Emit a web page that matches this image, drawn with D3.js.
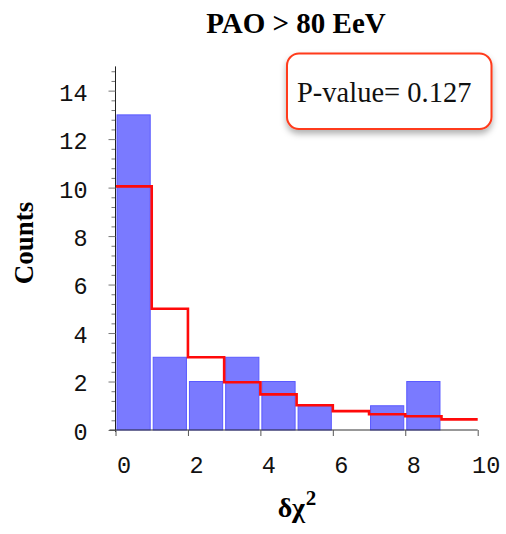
<!DOCTYPE html>
<html>
<head>
<meta charset="utf-8">
<script src="https://cdn.jsdelivr.net/npm/d3@7/dist/d3.min.js"></script>
<style>
  html, body { margin: 0; padding: 0; background: #fff; }
  svg { display: block; }
</style>
</head>
<body>
<script>
// Histogram of delta chi-square values with the expected distribution overlaid
const binStarts = [0, 1, 2, 3, 4, 5, 6, 7, 8, 9];
const binWidth = 1;
const counts = [13, 3, 2, 3, 2, 1, 0, 1, 2, 0];
const expected = [10.05, 5.0, 3.0, 1.97, 1.47, 1.02, 0.78, 0.65, 0.57, 0.44];
const xTicks = [0, 2, 4, 6, 8, 10];
const yTicks = [0, 2, 4, 6, 8, 10, 12, 14];
const titleText = "PAO > 80 EeV";
const pValueText = "P-value= 0.127";

const W = 506, H = 534;
const svg = d3.select("body").append("svg").attr("width", W).attr("height", H);

const x = d3.scaleLinear().domain([0, 10]).range([115.5, 477.7]);
const y = d3.scaleLinear().domain([0, 15]).range([430, 66.4]);

const serif = "'Liberation Serif', 'Times New Roman', serif";
const mono = "'Liberation Mono', 'DejaVu Sans Mono', monospace";

// shadow for the annotation box
const defs = svg.append("defs");
const f = defs.append("filter").attr("id", "shadow").attr("x", "-20%").attr("y", "-20%").attr("width", "140%").attr("height", "160%");
f.append("feDropShadow").attr("dx", 0).attr("dy", 4).attr("stdDeviation", 3).attr("flood-color", "#000").attr("flood-opacity", 0.3);

// bars
svg.append("g").selectAll("rect")
  .data(binStarts.map((b, i) => ({ b, c: counts[i] })).filter(d => d.c > 0))
  .join("rect")
  .attr("x", d => x(d.b) + 1.5)
  .attr("width", d => x(d.b + binWidth) - x(d.b) - 3)
  .attr("y", d => y(d.c))
  .attr("height", d => y(0) - y(d.c))
  .attr("fill", "#7a7aff")
  .attr("stroke", "#5a5aff")
  .attr("stroke-width", 1);

// expected distribution as a step line
const stepPts = binStarts.map((b, i) => [b, expected[i]]);
stepPts.push([binStarts[binStarts.length - 1] + binWidth, expected[expected.length - 1]]);
svg.append("path")
  .datum(stepPts)
  .attr("d", d3.line().x(d => x(d[0])).y(d => y(d[1])).curve(d3.curveStepAfter))
  .attr("fill", "none")
  .attr("stroke", "#ff0a0a")
  .attr("stroke-width", 2.6);

// y axis: major ticks every 2, minor every 0.4
const yMinor = d3.range(0, 14.81, 0.4).filter(v => Math.abs(v / 2 - Math.round(v / 2)) > 1e-6);
const yAxisG = svg.append("g").attr("transform", `translate(${x(0)},0)`);
yAxisG.call(d3.axisLeft(y).tickValues(yMinor).tickSize(4).tickFormat(""))
  .call(g => g.select(".domain").remove())
  .call(g => g.selectAll(".tick line").attr("stroke", "#777"));
const yMajorG = svg.append("g").attr("transform", `translate(${x(0)},0)`);
yMajorG.call(d3.axisLeft(y).tickValues(yTicks).tickSize(7).tickPadding(21).tickSizeOuter(0))
  .call(g => g.select(".domain").attr("stroke", "#222").attr("d", `M0,${y(15)}V${y(0) + 2}`))
  .call(g => g.selectAll(".tick line").attr("stroke", "#777"))
  .call(g => g.selectAll(".tick text").attr("font-family", mono).attr("font-size", 23.5).attr("fill", "#111").attr("dy", "0.4em"));

// x axis
const xAxisG = svg.append("g").attr("transform", `translate(0,${y(0)})`);
xAxisG.call(d3.axisBottom(x).tickValues(xTicks).tickSize(6).tickPadding(20).tickSizeOuter(0))
  .call(g => g.select(".domain").attr("stroke", "#333").attr("d", `M${x(0) - 6},0H${x(10)}`))
  .call(g => g.selectAll(".tick line").attr("stroke", "#555"))
  .call(g => g.selectAll(".tick text").attr("font-family", mono).attr("font-size", 23.5).attr("fill", "#111").attr("dx", 8));

// title
svg.append("text")
  .attr("x", 296).attr("y", 33)
  .attr("text-anchor", "middle")
  .attr("font-family", serif).attr("font-weight", "bold").attr("font-size", 29)
  .text(titleText);

// axis titles
const xt = svg.append("text")
  .attr("x", 297).attr("y", 517)
  .attr("text-anchor", "middle")
  .attr("font-family", serif).attr("font-weight", "bold").attr("font-size", 28);
xt.append("tspan").text("δχ");
xt.append("tspan").attr("font-size", 21).attr("dy", -12).attr("dx", 1).text("2");

svg.append("text")
  .attr("transform", "translate(33,243) rotate(-90)")
  .attr("text-anchor", "middle")
  .attr("font-family", serif).attr("font-weight", "bold").attr("font-size", 27)
  .text("Counts");

// annotation box
svg.append("rect")
  .attr("x", 287).attr("y", 53.5).attr("width", 204.5).attr("height", 75.5)
  .attr("rx", 12).attr("ry", 12)
  .attr("fill", "#fff").attr("stroke", "#ff3a1a").attr("stroke-width", 2)
  .attr("filter", "url(#shadow)");
svg.append("text")
  .attr("x", 297).attr("y", 101.5)
  .attr("font-family", serif).attr("font-size", 28.5).attr("fill", "#111")
  .text(pValueText);
</script>
</body>
</html>
